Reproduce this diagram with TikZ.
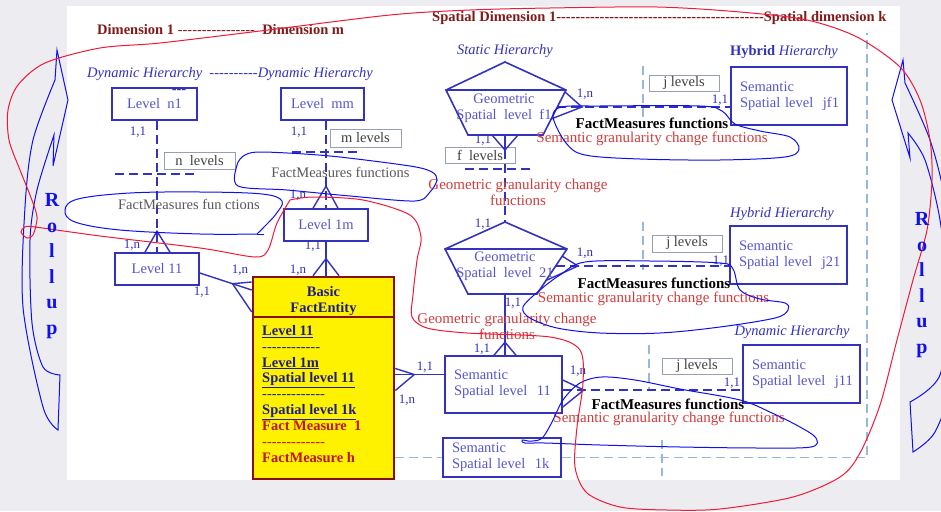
\documentclass[tikz,border=0pt]{standalone}
\usepackage{fontspec}
\setmainfont{Liberation Serif}
\usetikzlibrary{calc}

\definecolor{bgpage}{RGB}{237,237,241}
\definecolor{erblue}{RGB}{50,50,190}
\definecolor{boxtext}{RGB}{85,85,210}
\definecolor{titlered}{RGB}{130,25,25}
\definecolor{fnred}{RGB}{210,60,60}
\definecolor{penblue}{RGB}{15,15,240}
\definecolor{penred}{RGB}{240,25,55}
\definecolor{guideblue}{RGB}{150,183,222}
\definecolor{countgray}{RGB}{150,160,178}
\definecolor{attrnavy}{RGB}{30,30,135}
\definecolor{factred}{RGB}{190,20,20}
\definecolor{maroon}{RGB}{135,15,15}

\newcommand\fontbox{\fontsize{14.5}{16}\selectfont}
\newcommand\fontcard{\fontsize{13}{15}\selectfont}
\newcommand\fontgran{\fontsize{15}{16}\selectfont}
\newcommand\fontbody{\fontsize{14.5}{15.9}\selectfont}
\newcommand\fonttitle{\fontsize{14.5}{17}\selectfont}
\newcommand\dashrun[1]{\foreach\k in {1,...,#1}{-\kern0pt}}

\begin{document}
\begin{tikzpicture}[x=1pt,y=-1pt,
  level/.style={draw=erblue, line width=1.6pt, text=boxtext, font=\fontbox, inner sep=0pt, align=center},
  semlevel/.style={level, align=left, inner xsep=9pt, inner ysep=0pt},
  count/.style={draw=countgray, line width=0.8pt, text=black!75, font=\fontbox, inner sep=0pt},
  card/.style={text=erblue, font=\fontcard, inner sep=0pt},
  hier/.style={text=erblue, font=\fonttitle\itshape, inner sep=0pt},
  rel/.style={draw=erblue, line width=1.4pt},
  reldash/.style={rel, dash pattern=on 9pt off 5pt},
  guide/.style={draw=guideblue, line width=1.3pt, dash pattern=on 9pt off 5pt},
  pen/.style={draw=penblue, line width=1pt},
  redpen/.style={draw=penred, line width=1pt},
  title/.style={text=titlered, font=\fonttitle\bfseries, inner sep=0pt},
  fmtext/.style={font=\fontbox, text=black!65, inner sep=0pt},
  fmfun/.style={font=\fontgran\bfseries, text=black, inner sep=0pt},
  granfun/.style={font=\fontgran, text=fnred, inner sep=0pt, align=center},
  rollup/.style={text=penblue, font=\fontsize{20}{25.6}\selectfont\bfseries, align=center, inner sep=0pt},
  pentagon/.style={draw=erblue, line width=1.6pt, line join=miter},
]
% page and sheet
\fill[bgpage] (0,0) rectangle (941,511);
\fill[white] (67,6) rectangle (900,480);
\useasboundingbox (0,0) rectangle (941,511);

% titles
\node[title, anchor=west] (dimtitle) at (97,30) {Dimension 1 {\mdseries\dashrun{16}}\ \ Dimension m};
\node[title, anchor=west] (spattitle) at (432,18) {Spatial Dimension 1\dashrun{43}Spatial dimension k};

% hierarchy captions
\node[hier, anchor=west] (dynrow) at (87,74) {Dynamic Hierarchy\ \ \dashrun{10}Dynamic Hierarchy};
\node[hier] (stat) at (505,51) {Static Hierarchy};
\node[hier] (hyb1) at (784,52) {{\upshape\bfseries Hybrid} Hierarchy};
\node[hier] (hyb2) at (782,214) {Hybrid Hierarchy};
\node[hier] (dyn3) at (792,332) {Dynamic Hierarchy};

% level-count boxes
\node[count, minimum width=71, minimum height=17] (nlev) at (199.5,160.5) {n\ \ levels};
\node[count, minimum width=71, minimum height=18] (mlev) at (365.5,138) {m levels};
\node[count, minimum width=70, minimum height=16] (flev) at (480,155) {f\ \ levels};
\node[count, minimum width=70, minimum height=16] (jlev1) at (684,83) {j levels};
\node[count, minimum width=70, minimum height=17] (jlev2) at (687,243.5) {j levels};
\node[count, minimum width=70, minimum height=16] (jlev3) at (697,366) {j levels};

% thematic levels
\node[level, minimum width=85, minimum height=32] (n1) at (154.5,104) {Level\ \ n1};
\node[text=erblue, font=\fontbox\bfseries, inner sep=0pt] (n1mark) at (179,91) {\dashrun{3}};
\node[level, minimum width=83, minimum height=32] (mm) at (322.5,104) {Level\ \ mm};
\node[level, minimum width=84, minimum height=32] (l1m) at (326,225) {Level 1m};
\node[level, minimum width=84, minimum height=32] (l11) at (157,269) {Level 11};

% semantic spatial levels
\node[semlevel, text width=99, minimum height=57] (s11) at (503.5,384.5) {Semantic\\Spatial~level~~11};
\node[semlevel, text width=100, minimum height=39] (s1k) at (502,457.5) {Semantic\\Spatial~level~~1k};
\node[semlevel, text width=98, minimum height=58] (jf1) at (789,96) {Semantic\\Spatial~level~~jf1};
\node[semlevel, text width=99, minimum height=58] (j21) at (788.5,255) {Semantic\\Spatial~level~~j21};
\node[semlevel, text width=99, minimum height=58] (j11) at (801.5,374) {Semantic\\Spatial~level~~j11};

% geometric spatial levels (pentagons)
\coordinate (f1apex) at (505,62);
\coordinate (f1l) at (446,90);
\coordinate (f1r) at (566,90);
\draw[pentagon] (f1apex) -- (f1r) -- (543,135) -- (468,135) -- (f1l) -- cycle;
\draw[pentagon] (f1l) -- (f1r);
\node[text=boxtext, font=\fontbox, align=center, inner sep=0pt] (f1) at (504,108) {Geometric\\Spatial\ \ level\ \ f1};
\coordinate (f1bot) at (505,135);

\coordinate (g21apex) at (505,222);
\coordinate (g21l) at (445,249);
\coordinate (g21r) at (567,249);
\draw[pentagon] (g21apex) -- (g21r) -- (537,294) -- (468,294) -- (g21l) -- cycle;
\draw[pentagon] (g21l) -- (g21r);
\node[text=boxtext, font=\fontbox, align=center, inner sep=0pt] (g21) at (505,266) {Geometric\\Spatial\ \ level\ \ 21};
\coordinate (g21bot) at (505,294);

% basic fact entity
\node[draw=maroon, line width=2.6pt, fill=yellow, minimum width=141, minimum height=202, inner sep=0pt] (fact) at (323.5,378) {};
\draw[draw=maroon, line width=2pt] ($(fact.north west)+(0,41)$) -- ($(fact.north east)+(0,41)$);
\node[font=\fontbox\bfseries, text=attrnavy, align=center, inner sep=0pt] (facthead) at (323.5,301) {Basic\\FactEntity};
\node[font=\fontbody\bfseries, align=left, anchor=north west, inner sep=0pt] (factbody) at (262,325) {%
\textcolor{attrnavy}{\underline{Level 11}}\\
\textcolor{attrnavy}{{\mdseries\dashrun{12}}}\\
\textcolor{attrnavy}{\underline{Level 1m}}\\
\textcolor{attrnavy}{\underline{Spatial level 11}}\\
\textcolor{attrnavy}{{\mdseries\dashrun{13}}}\\
\textcolor{attrnavy}{\underline{Spatial level 1k}}\\
\textcolor{factred}{Fact Measure\ \ 1}\\
\textcolor{factred}{{\mdseries\dashrun{13}}}\\
\textcolor{factred}{FactMeasure h}};

% level separators
\draw[reldash] (115,174) -- (195,174);
\draw[reldash] (292,152) -- (362,152);
\draw[reldash] (465,169) -- (533,169);

% guides between dimensions
\draw[guide] (fact.east |- s1k.west) -- (s1k.west);
\draw[guide] (s1k.east) -| (867,33);
\draw[guide] (662,440) -- (662,476);
\draw[guide] (643,66) -- (643,120);
\draw[guide] (643,222) -- (643,270);
\draw[guide] (649,345) -- (649,390);

% n1 -> l11
\coordinate (l11top) at (l11.north);
\draw[reldash] (n1.south -| l11top) -- (l11top);
\draw[rel] ($(l11top)+(-12,0)$) -- ($(l11top)+(0,-21)$) -- ($(l11top)+(13,0)$);

% mm -> l1m
\coordinate (l1mtop) at (l1m.north);
\draw[reldash] (mm.south -| l1mtop) -- (l1mtop);
\draw[rel] ($(l1mtop)+(-13,0)$) -- ($(l1mtop)+(0,-22)$) -- ($(l1mtop)+(12,0)$);

% l1m -> fact
\coordinate (facttop) at (fact.north -| l1m.south);
\draw[rel] (l1m.south) -- (facttop);
\draw[rel] ($(facttop)+(-13,0)$) -- ($(facttop)+(0,-17)$) -- ($(facttop)+(13,0)$);

% l11 -> fact
\coordinate (l11out) at ($(l11.east)+(0,4)$);
\coordinate (factin) at ($(fact.west)+(0,-88)$);
\draw[rel] (l11out) -- (factin);
\coordinate (l11fork) at ($(l11out)!0.63!(factin)$);
\draw[rel] ($(fact.west)+(0,-96)$) -- (l11fork) -- ($(fact.west)+(0,-66)$);

% fact -> s11
\coordinate (s11in) at ($(s11.west)+(0,-10)$);
\coordinate (factout) at (fact.east |- s11in);
\draw[rel] (factout) -- (s11in);
\coordinate (factfork) at ($(factout)+(19,0)$);
\draw[rel] ($(factout)+(0,-6)$) -- (factfork) -- ($(factout)+(0,16)$);

% f1 -> g21
\coordinate (f1fork) at ($(f1bot)+(0,15)$);
\draw[rel] (f1bot) -- (f1fork);
\draw[reldash] (f1fork) -- (g21apex);
\draw[rel] ($(f1bot)+(-13,0)$) -- (f1fork) -- ($(f1bot)+(13,0)$);

% g21 -> s11
\coordinate (s11top) at (s11.north -| g21bot);
\draw[rel] (g21bot) -- (s11top);
\draw[rel] ($(s11top)+(-11,0)$) -- ($(s11top)+(0,-13)$) -- ($(s11top)+(11,0)$);

% f1 -> jf1
\coordinate (jf1in) at ($(jf1.west)+(0,11)$);
\coordinate (f1out) at (557,107);
\coordinate (f1side) at (582,107);
\draw[reldash] (f1out) -- (jf1in);
\draw[rel] (565,92) -- (f1side) -- (551,119);

% g21 -> j21
\coordinate (j21in) at ($(j21.west)+(0,11)$);
\coordinate (g21out) at (556,266);
\coordinate (g21side) at (578,266);
\draw[reldash] (g21out) -- (j21in);
\draw[rel] (562,256) -- (g21side) -- (547,280);

% s11 -> j11
\coordinate (j11in) at ($(j11.west)+(0,16)$);
\coordinate (s11out) at (s11.east |- j11in);
\draw[reldash] (s11out) -- (j11in);
\coordinate (s11fork) at ($(s11out)+(21,0)$);
\draw[rel] ($(s11out)+(0,-10)$) -- (s11fork) -- ($(s11out)+(0,17)$);

% cardinalities
\node[card] (c1) at (138,132) {1,1};
\node[card] (c2) at (132,245) {1,n};
\node[card] (c3) at (299,132) {1,1};
\node[card] (c4) at (298,195) {1,n};
\node[card] (c5) at (313,246) {1,1};
\node[card] (c6) at (298,270) {1,n};
\node[card] (c7) at (240,270) {1,n};
\node[card] (c8) at (202,292) {1,1};
\node[card] (c9) at (425,367) {1,1};
\node[card] (c10) at (407,400) {1,n};
\node[card] (c11) at (482,349) {1,1};
\node[card] (c12) at (513,303) {1,1};
\node[card] (c13) at (483,224) {1,1};
\node[card] (c14) at (483,140) {1,1};
\node[card] (c15) at (585,94) {1,n};
\node[card] (c16) at (720,100) {1,1};
\node[card] (c17) at (585,253) {1,n};
\node[card] (c18) at (721,261) {1,1};
\node[card] (c19) at (578,371) {1,n};
\node[card] (c20) at (732,383) {1,1};

% measure functions
\node[fmtext] (fm1) at (189,204) {FactMeasures fun ctions};
\node[fmtext] (fm2) at (340.5,172) {FactMeasures functions};
\node[fmfun] (fm3) at (652,123) {FactMeasures functions};
\node[granfun] (sg3) at (652,139) {Semantic granularity change functions};
\node[fmfun] (fm4) at (654,283) {FactMeasures functions};
\node[granfun] (sg4) at (653.5,299) {Semantic granularity change functions};
\node[fmfun] (fm5) at (668,404) {FactMeasures functions};
\node[granfun] (sg5) at (669,419) {Semantic granularity change functions};
\node[granfun] (gg1) at (518,192) {Geometric granularity change\\functions};
\node[granfun] (gg2) at (507,326.5) {Geometric granularity change\\functions};

% hand-drawn marks
\begin{scope}
\clip (0,0) rectangle (941,511);
% bubbles around the measure functions
\draw[pen] (257,234) -- (264,234);
\draw[pen] plot[smooth, tension=0.6] coordinates {(257,234) (200,234) (120,230) (75,222) (65,210) (78,199) (130,193) (200,192) (262,194) (282,201) (276,214) (265,226) (257,234)};
\draw[pen] plot[smooth cycle, tension=0.5] coordinates {(263,152) (330,156) (410,166) (432,172) (437,180) (430,192) (415,201) (350,196) (287,190) (238,186) (237,165) (245,155)};
\draw[pen] plot[smooth cycle, tension=0.55] coordinates {(553,117) (562,107) (600,106) (700,106) (722,111) (735,124) (760,131) (790,137) (799,149) (785,157) (720,160) (640,159) (585,155) (566,143)};
\draw[pen] plot[smooth cycle, tension=0.55] coordinates {(585,262) (650,261) (720,263) (733,269) (740,290) (760,299) (785,303) (788,310) (775,318) (720,327) (660,333) (600,333) (557,328) (530,318) (523,307) (540,290) (560,275)};
\draw[pen] plot[smooth, tension=0.55] coordinates {(528,441) (541,439) (551,424) (563,400) (580,383) (602,377) (635,380) (680,389) (740,400) (772,413) (800,427) (816,438) (811,447) (760,448) (680,447) (600,445) (545,443) (525,443) (522,440) (528,441)};

% roll-up arrows
\draw[pen] (57,50) -- (68,100) -- (53,166) -- plot[smooth] coordinates {(54,135) (37,190) (30,240) (32,323) (43,367) (60,375)} -- (58,430) -- plot[smooth] coordinates {(58,430) (43,407) (23,307) (25,207) (33,140) (55,80)} -- cycle;
\draw[pen] (903,60) -- (892,100) -- (910,158) -- plot[smooth] coordinates {(908,133) (925,160) (940,220) (948,300) (940,375) (910,402)} -- (913,452) -- plot[smooth] coordinates {(913,452) (935,432) (952,380) (955,290) (945,200) (930,140) (905,83)} -- cycle;

% sweep around the spatial dimensions
\draw[redpen] plot[smooth, tension=0.5] coordinates {(290,200) (277,223) (268,250) (255,257) (200,248) (100,236) (35,227) (25,227) (21,232) (27,238) (33,235) (37,217) (30,195) (20,170) (9,140) (8,110) (18,85) (45,63) (100,48) (160,43) (260,31) (390,15) (470,10) (550,8) (657,7) (740,12) (807,20) (857,37) (900,67) (920,100) (930,140) (932,180) (927,230) (913,280) (897,340) (880,405) (860,453) (840,477) (793,497) (720,509) (667,510) (620,507) (587,493) (575,467) (577,427) (583,383) (580,350) (550,337) (467,333) (427,328) (412,317) (413,295) (417,260) (421,237) (410,215) (363,200) (313,197) (290,200)};
\end{scope}

% roll-up captions
\node[rollup] (rollleft) at (52,266) {R\\o\\l\\l\\u\\p};
\node[rollup] (rollright) at (922,285) {R\\o\\l\\l\\u\\p};
\end{tikzpicture}
\end{document}
